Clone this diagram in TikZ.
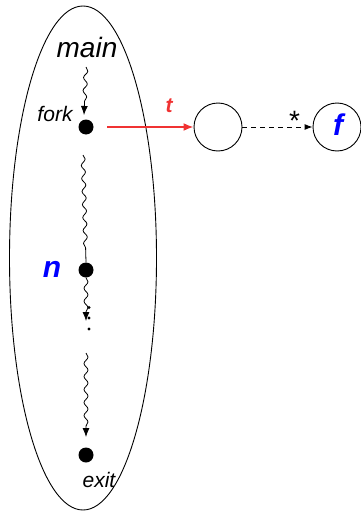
\documentclass[tikz,border=0pt]{standalone}
\usepackage{fontspec}
\setmainfont{Liberation Sans}
\usetikzlibrary{shapes.geometric,arrows.meta,decorations.pathmorphing}
\definecolor{myred}{RGB}{240,50,50}
\definecolor{myblue}{RGB}{0,0,255}
\begin{document}
\begin{tikzpicture}[x=1pt,y=-1pt,
  dotnode/.style={circle,fill=black,minimum size=15pt,inner sep=0pt},
  statenode/.style={circle,draw=black,line width=0.9pt,minimum size=48pt,inner sep=0pt},
  wavy/.style={line width=0.8pt,decorate,decoration={snake,amplitude=2pt,segment length=13pt,post length=9pt}},
  tip/.style={-{Latex[length=9pt,width=7pt]}},
  lbl/.style={inner sep=0pt,anchor=base}]
\useasboundingbox (0,0) rectangle (361,511);
\node[ellipse,draw,line width=0.9pt,minimum width=147pt,minimum height=504pt,inner sep=0pt] (E) at (83,258) {};
\node[dotnode] (d1) at (86,127) {};
\node[dotnode] (d2) at (86,270) {};
\node[dotnode] (d3) at (86,455) {};
\node[lbl,font=\fontsize{28}{30}\selectfont\itshape] (main) at (87,57) {main};
\node[lbl,font=\fontsize{21}{23}\selectfont\itshape] (fork) at (55,121) {fork};
\node[lbl,font=\fontsize{30}{32}\selectfont\bfseries\itshape,text=myblue] (n) at (52,277) {n};
\node[lbl,font=\fontsize{21}{23}\selectfont\itshape] (exit) at (99,487) {exit};
\coordinate (w1) at (86,67);
\coordinate (w1e) at (84,115);
\coordinate (w2s) at (83,155);
\coordinate (w2) at (86,321);
\coordinate (w3) at (86,353);
\coordinate (w3e) at (86,437);
\draw[wavy,tip] (w1) -- (w1e);
\draw[wavy] (w2s) -- (d2.north);
\draw[wavy,tip] (d2.south) -- (w2);
\draw[wavy,tip] (w3) -- (w3e);
\fill (89,307.5) circle (1.6pt);
\fill (89,318) circle (1.6pt);
\fill (89,329) circle (1.6pt);
\node[statenode] (c1) at (218,127) {};
\node[statenode] (c2) at (337,127) {};
\node[lbl,font=\fontsize{30}{32}\selectfont\bfseries\itshape,text=myblue] (f) at (338,135) {f};
\draw[myred,line width=1.8pt,-{Latex[length=10pt,width=8pt]},shorten <=13.5pt] (d1.east) -- (c1.west);
\node[lbl,font=\fontsize{21}{23}\selectfont\bfseries\itshape,text=myred] (t) at (169,112) {t};
\draw[line width=0.9pt,dash pattern=on 5pt off 4pt,-{Latex[length=8pt,width=6pt]}] (c1.east) -- (c2.west);
\node[lbl,font=\fontsize{28}{30}\selectfont] (star) at (294.5,130) {*};
\end{tikzpicture}
\end{document}
